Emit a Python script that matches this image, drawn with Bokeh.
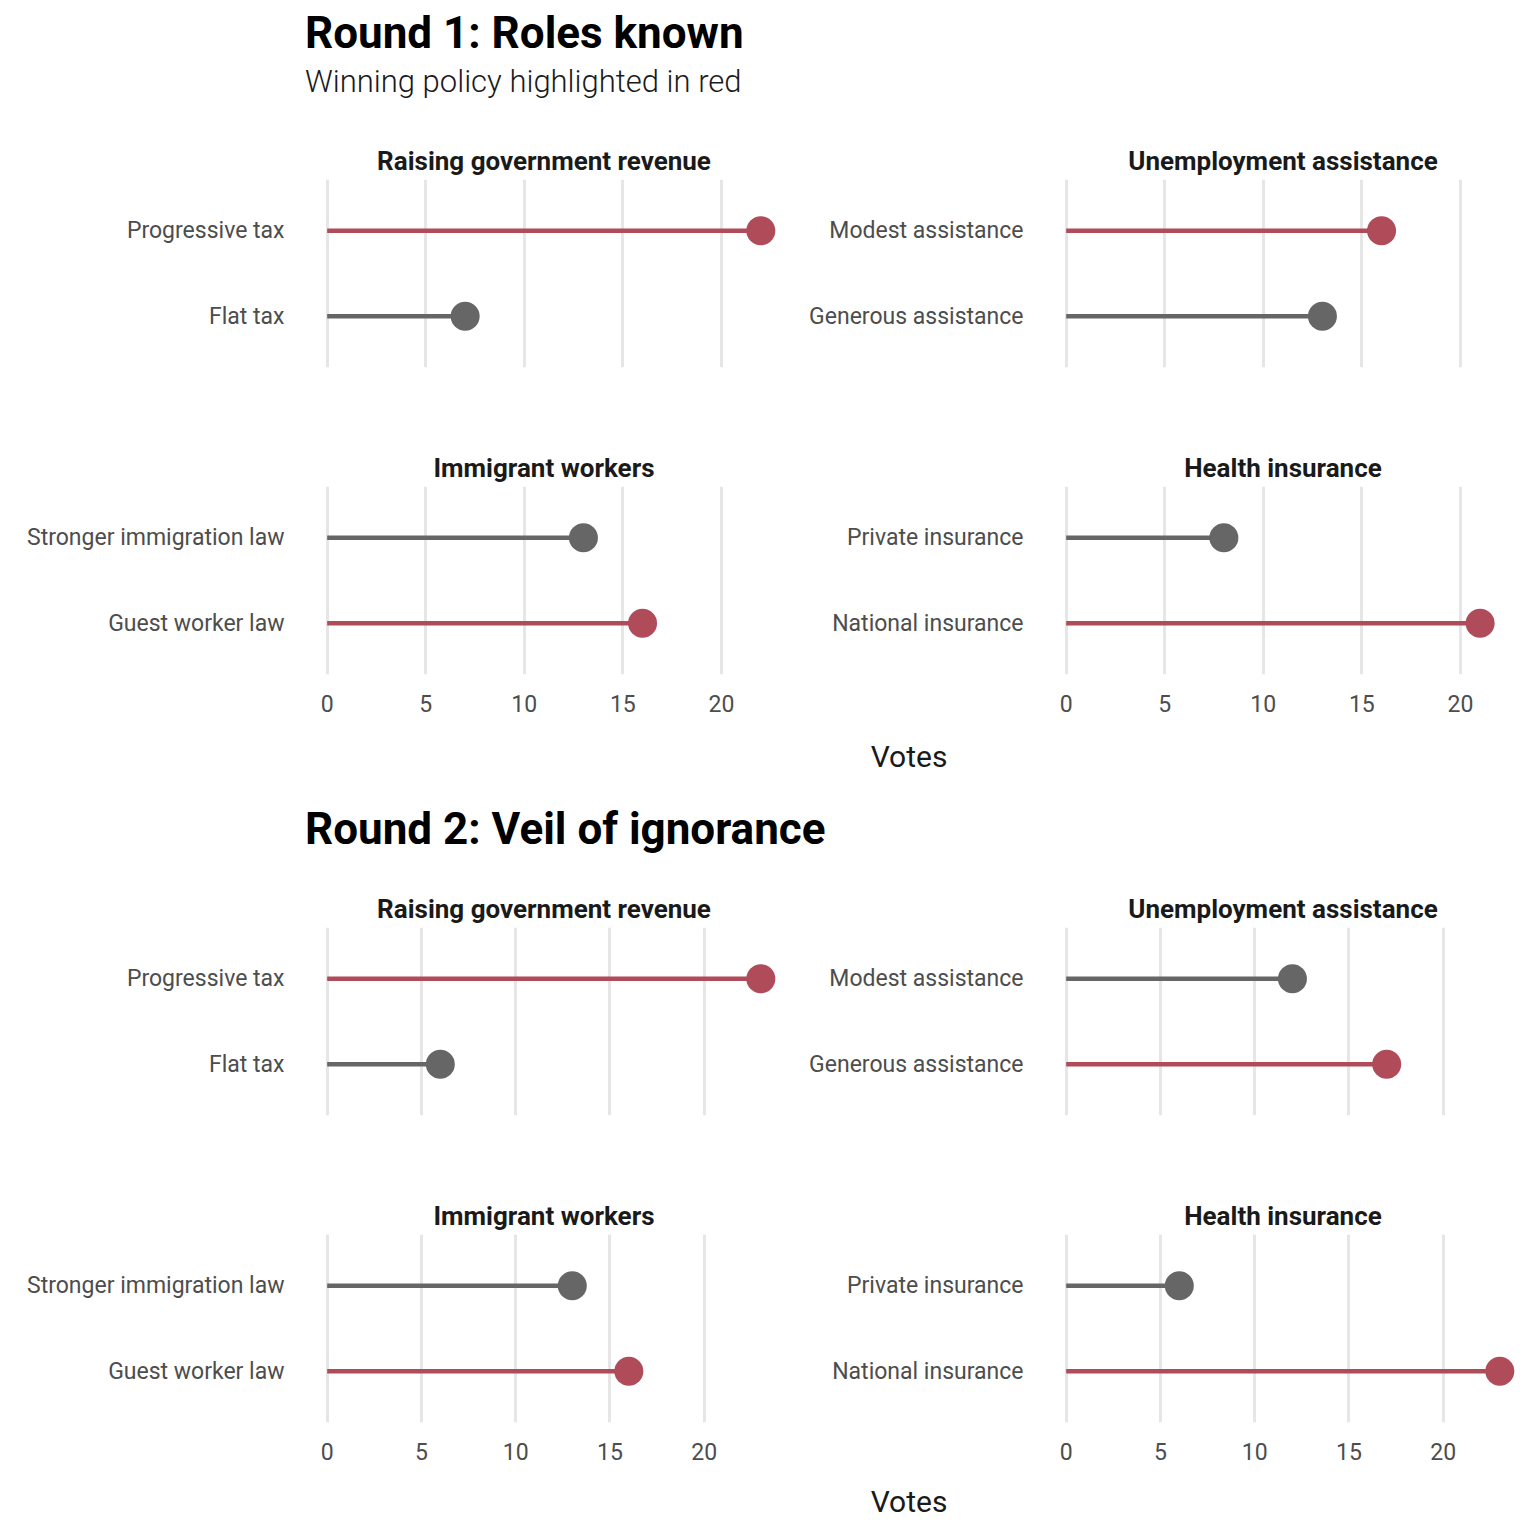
from bokeh.embed import file_html
from bokeh.layouts import column, row
from bokeh.models import Div, FactorRange, FixedTicker, Range1d
from bokeh.plotting import figure
from bokeh.resources import INLINE

FONT = "Roboto"
RED = "#b04b5a"
GREY = "#666666"

# panels: title, [upper option, lower option], [upper votes, lower votes], winner
panel_titles = ["Raising government revenue", "Unemployment assistance",
                "Immigrant workers", "Health insurance"]
panel_options = [["Progressive tax", "Flat tax"],
                 ["Modest assistance", "Generous assistance"],
                 ["Stronger immigration law", "Guest worker law"],
                 ["Private insurance", "National insurance"]]

round1_votes = [[22, 7], [16, 13], [13, 16], [8, 21]]
round1_winner = ["Progressive tax", "Modest assistance", "Guest worker law", "National insurance"]

round2_votes = [[23, 6], [12, 17], [13, 16], [6, 23]]
round2_winner = ["Progressive tax", "Generous assistance", "Guest worker law", "National insurance"]

x_ticks = [0, 5, 10, 15, 20]


def panel(i, votes, winners, xmax, left_border, bottom_row):
    opts = panel_options[i]
    vals = votes[i]
    pad = xmax * 0.05
    p = figure(
        title=panel_titles[i],
        y_range=FactorRange(factors=[opts[1], opts[0]], range_padding=0.1),
        x_range=Range1d(-pad, xmax + pad),
        frame_width=477, frame_height=188,
        min_border_left=left_border, min_border_right=0, min_border_top=0,
        min_border_bottom=10 if bottom_row else 79,
        output_backend="svg", toolbar_location=None,
        background_fill_color="white", border_fill_color="white",
        outline_line_color=None,
    )
    p.title.text_font = FONT
    p.title.text_font_size = "26px"
    p.title.text_font_style = "bold"
    p.title.text_color = "#1a1a1a"
    p.title.align = "center"
    p.title.standoff = 8

    colors = [RED if o in winners else GREY for o in opts]
    p.segment(x0=[0, 0], y0=opts, x1=vals, y1=opts, line_color=colors, line_width=4.5)
    p.scatter(x=vals, y=opts, size=29, fill_color=colors, line_color=None)

    p.xaxis.ticker = FixedTicker(ticks=x_ticks)
    p.xgrid.ticker = FixedTicker(ticks=x_ticks)
    p.xgrid.grid_line_color = "#e6e6e6"
    p.xgrid.grid_line_width = 3
    p.ygrid.grid_line_color = None
    for ax in (p.xaxis, p.yaxis):
        ax.axis_line_color = None
        ax.major_tick_line_color = None
        ax.minor_tick_line_color = None
        ax.major_label_text_font = FONT
        ax.major_label_text_font_size = "23px"
        ax.major_label_text_color = "#4d4d4d"
        ax.major_label_standoff = 15
    p.xaxis.major_label_standoff = 14
    p.xaxis.visible = bottom_row
    return p


def round_block(votes, winners):
    xmax = max(max(v) for v in votes)
    r1 = row(panel(0, votes, winners, xmax, 305, False),
             panel(1, votes, winners, xmax, 262, False))
    r2 = row(panel(2, votes, winners, xmax, 305, True),
             panel(3, votes, winners, xmax, 262, True))
    return r1, r2


def votes_div(h, top):
    return Div(text="Votes", width=1520, height=h, margin=0,
               styles={"font-family": FONT, "font-size": "30px", "color": "#1a1a1a",
                       "text-align": "center", "padding-left": "298px",
                       "padding-top": f"{top}px", "box-sizing": "border-box"})


title1 = Div(
    text=("<div style='font-size:44px;font-weight:bold;color:#000;line-height:50px'>Round 1: Roles known</div>"
          "<div style='font-size:31px;font-weight:300;color:#1a1a1a;line-height:48px'>Winning policy highlighted in red</div>"),
    width=1520, height=139, margin=0,
    styles={"font-family": FONT, "padding-left": "305px", "padding-top": "8px",
            "box-sizing": "border-box"})
title2 = Div(
    text="<div style='font-size:44px;font-weight:bold;color:#000;line-height:50px'>Round 2: Veil of ignorance</div>",
    width=1520, height=111, margin=0,
    styles={"font-family": FONT, "padding-left": "305px", "padding-top": "28px",
            "box-sizing": "border-box"})

a1, a2 = round_block(round1_votes, round1_winner)
b1, b2 = round_block(round2_votes, round2_winner)

layout = column(title1, a1, a2, votes_div(62, 22), title2, b1, b2, votes_div(50, 19), spacing=0)

open("out.html", "w").write(file_html(layout, INLINE))
